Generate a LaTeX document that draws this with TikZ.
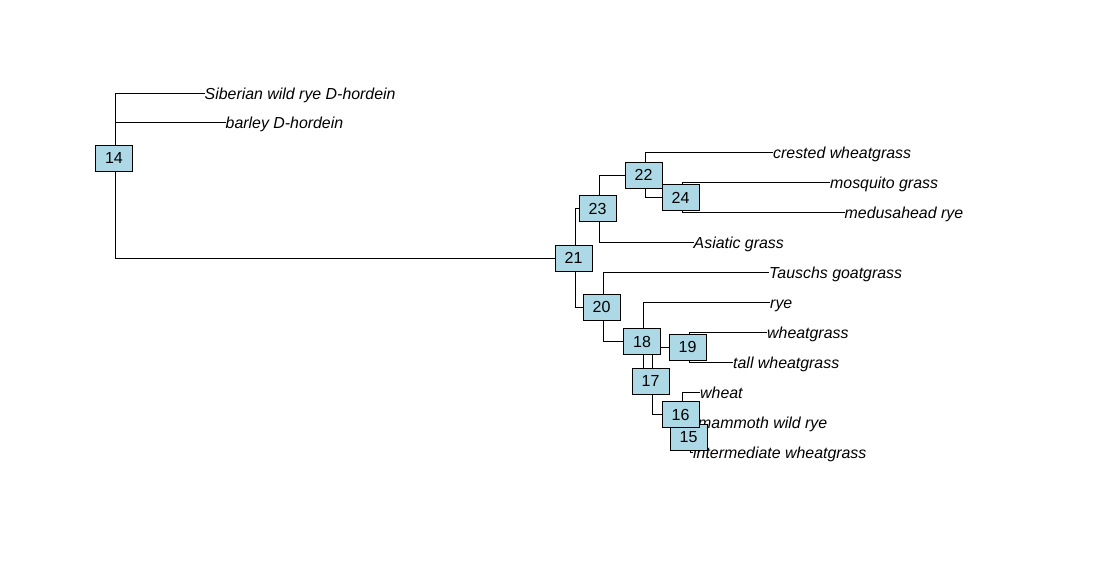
\documentclass[tikz,border=0pt]{standalone}
\usepackage{fontspec}
\setmainfont{Liberation Sans}
\definecolor{lb}{HTML}{ADD8E6}
\begin{document}
\begin{tikzpicture}[x=1pt,y=-1pt,
  edge/.style={draw=black,line width=1pt},
  nlab/.style={draw=black,fill=lb,line width=1pt,minimum width=37pt,minimum height=26pt,inner sep=0pt,font=\fontsize{16}{18}\selectfont,xshift=-1.5pt},
  tlab/.style={anchor=base west,inner sep=0pt,font=\fontsize{15.9}{18}\selectfont\itshape,yshift=-6pt}]
\useasboundingbox (0,0) rectangle (1116,565);
% internal node positions
\coordinate (p14) at (115.5,158);
\coordinate (p21) at (575,258);
\coordinate (p23) at (599,208.9);
\coordinate (p22) at (645,175.3);
\coordinate (p24) at (682,197.75);
\coordinate (p20) at (603,307.1);
\coordinate (p18) at (643.5,341.7);
\coordinate (p19) at (689,347.3);
\coordinate (p17) at (652,381);
\coordinate (p16) at (682,414.6);
\coordinate (p15) at (690,437.05);
% tips
\coordinate (c1) at (204.5,93);
\coordinate (c2) at (225.5,122.9);
\coordinate (c3) at (773,152.8);
\coordinate (c4) at (830,182.8);
\coordinate (c5) at (844.5,212.7);
\coordinate (c6) at (693.5,242.6);
\coordinate (c7) at (769,272.5);
\coordinate (c8) at (770,302.4);
\coordinate (c9) at (767,332.4);
\coordinate (c10) at (733,362.3);
\coordinate (c11) at (700,392.2);
\coordinate (c12) at (698,422.1);
\coordinate (c13) at (693,452);
% edges
\draw[edge] (p14) |- (c1);
\draw[edge] (p14) |- (c2);
\draw[edge] (p14) |- (p21);
\draw[edge] (p21) |- (p23);
\draw[edge] (p21) |- (p20);
\draw[edge] (p23) |- (p22);
\draw[edge] (p23) |- (c6);
\draw[edge] (p22) |- (c3);
\draw[edge] (p22) |- (p24);
\draw[edge] (p24) |- (c4);
\draw[edge] (p24) |- (c5);
\draw[edge] (p20) |- (c7);
\draw[edge] (p20) |- (p18);
\draw[edge] (p18) |- (c8);
\draw[edge] (p18) |- (p17);
\draw[edge] (p17) |- (p19);
\draw[edge] (p17) |- (p16);
\draw[edge] (p19) |- (c9);
\draw[edge] (p19) |- (c10);
\draw[edge] (p16) |- (c11);
\draw[edge] (p16) |- (p15);
\draw[edge] (p15) |- (c12);
\draw[edge] (p15) |- (c13);
% tip labels
\node[tlab] (t1) at (c1) {Siberian wild rye D-hordein};
\node[tlab] (t2) at (c2) {barley D-hordein};
\node[tlab] (t3) at (c3) {crested wheatgrass};
\node[tlab] (t4) at (c4) {mosquito grass};
\node[tlab] (t5) at (c5) {medusahead rye};
\node[tlab] (t6) at (c6) {Asiatic grass};
\node[tlab] (t7) at (c7) {Tauschs goatgrass};
\node[tlab] (t8) at (c8) {rye};
\node[tlab] (t9) at (c9) {wheatgrass};
\node[tlab] (t10) at (c10) {tall wheatgrass};
\node[tlab] (t11) at (c11) {wheat};
\node[tlab] (t12) at (c12) {mammoth wild rye};
\node[tlab] (t13) at (c13) {intermediate wheatgrass};
% node labels
\node[nlab] (n14) at (p14) {14};
\node[nlab] (n15) at (p15) {15};
\node[nlab] (n16) at (p16) {16};
\node[nlab] (n17) at (p17) {17};
\node[nlab] (n18) at (p18) {18};
\node[nlab] (n19) at (p19) {19};
\node[nlab] (n20) at (p20) {20};
\node[nlab] (n21) at (p21) {21};
\node[nlab] (n22) at (p22) {22};
\node[nlab] (n23) at (p23) {23};
\node[nlab] (n24) at (p24) {24};
\end{tikzpicture}
\end{document}
